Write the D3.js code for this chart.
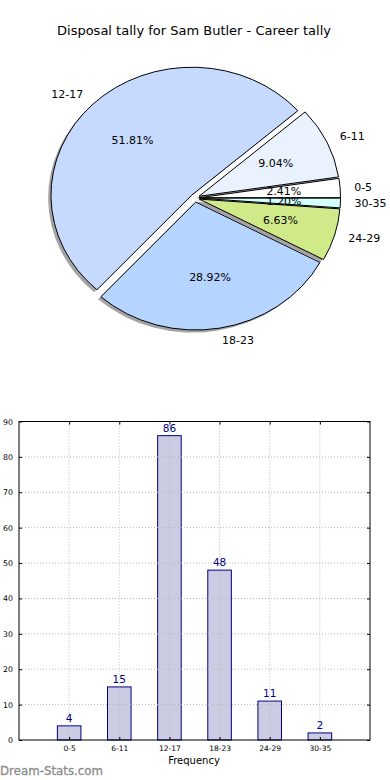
<!DOCTYPE html>
<html><head><meta charset="utf-8">
<script src="https://cdn.jsdelivr.net/npm/d3@7"></script>
<style>html,body{margin:0;padding:0;background:#fff;}svg{display:block;font-family:"DejaVu Sans",sans-serif;}</style>
</head><body>
<svg id="c" width="390" height="780"></svg>
<script>
const categories = ["0-5","6-11","12-17","18-23","24-29","30-35"];
const counts = [4,15,86,48,11,2];
const pieColors = ["#ffffff","#eaf1ff","#c6daff","#b5d4ff","#d0ea8a","#d5ffff"];
const yTicks = [0,10,20,30,40,50,60,70,80,90];
const title = "Disposal tally for Sam Butler - Career tally";

const svg = d3.select("#c");
svg.append("rect").attr("width",390).attr("height",780).attr("fill","#fff");

svg.append("text").attr("x",194).attr("y",30).attr("text-anchor","middle")
  .attr("dominant-baseline","central").attr("font-size",13).attr("fill","#000").text(title);

// ---- Pie ----
const cx = 195, cy = 198, rx = 141, ry = 128, explode = 0.032;
const total = d3.sum(counts);
const pie = d3.pie().sort(null).startAngle(Math.PI/2).endAngle(Math.PI/2 - 2*Math.PI);
const arcs = pie(counts);
const arcGen = d3.arc().innerRadius(0).outerRadius(1);
const pg = svg.append("g");
function off(d){ const a=(d.startAngle+d.endAngle)/2; return [Math.sin(a)*explode*rx, -Math.cos(a)*explode*ry]; }
// shadows
pg.selectAll("path.sh").data(arcs).join("path").attr("class","sh")
  .attr("d", arcGen)
  .attr("transform", d => { const o=off(d); return `translate(${cx+o[0]-0.02*rx},${cy+o[1]+0.02*ry}) scale(${rx},${ry})`; })
  .attr("fill", "#4a4a4a").attr("fill-opacity",0.5);
pg.selectAll("path.w").data(arcs).join("path").attr("class","w")
  .attr("d", arcGen)
  .attr("transform", d => { const o=off(d); return `translate(${cx+o[0]},${cy+o[1]}) scale(${rx},${ry})`; })
  .attr("fill", (d,i)=>pieColors[i]).attr("stroke","#000").attr("stroke-width",1)
  .attr("vector-effect","non-scaling-stroke").attr("stroke-linejoin","round");
// labels
arcs.forEach((d,i)=>{
  const a=(d.startAngle+d.endAngle)/2, o=off(d);
  const sx=Math.sin(a), sy=-Math.cos(a);
  pg.append("text").attr("x",cx+o[0]+1.1*rx*sx).attr("y",cy+o[1]+1.1*ry*sy)
    .attr("text-anchor", sx>0?"start":"end").attr("dominant-baseline","central")
    .attr("font-size",11).attr("fill","#000").text(categories[i]);
  pg.append("text").attr("x",cx+o[0]+0.6*rx*sx).attr("y",cy+o[1]+0.6*ry*sy)
    .attr("text-anchor","middle").attr("dominant-baseline","central")
    .attr("font-size",11).attr("fill","#000").text((counts[i]/total*100).toFixed(2)+"%");
});

// ---- Bar chart ----
const L=19, R=370, T=421.5, B=740;
const x = d3.scaleLinear().domain([-1,6]).range([L,R]);
const y = d3.scaleLinear().domain([0,90]).range([B,T]);
const bw = (x(1)-x(0))*0.47;
const bg = svg.append("g");
bg.selectAll("rect.bar").data(counts).join("rect").attr("class","bar")
  .attr("x",(d,i)=>x(i)-bw/2).attr("y",d=>y(d)).attr("width",bw).attr("height",d=>B-y(d))
  .attr("fill","#cbcbe2").attr("stroke","#000080").attr("stroke-width",1);
// grid
bg.selectAll("line.gy").data(yTicks.slice(1,-1)).join("line").attr("class","gy")
  .attr("x1",L).attr("x2",R).attr("y1",d=>y(d)).attr("y2",d=>y(d))
  .attr("stroke","#b8b8b8").attr("stroke-width",1).attr("stroke-dasharray","1,2");
bg.selectAll("line.gx").data(categories).join("line").attr("class","gx")
  .attr("x1",(d,i)=>x(i)).attr("x2",(d,i)=>x(i)).attr("y1",T).attr("y2",B)
  .attr("stroke","#b8b8b8").attr("stroke-width",1).attr("stroke-dasharray","1,2");
// frame
bg.append("rect").attr("x",L).attr("y",T).attr("width",R-L).attr("height",B-T)
  .attr("fill","none").attr("stroke","#000").attr("stroke-width",1);
// ticks (inward)
const yAxisL = d3.axisLeft(y).tickValues(yTicks).tickSizeInner(-3).tickSizeOuter(0).tickPadding(6);
const gyA = bg.append("g").attr("transform",`translate(${L},0)`).call(yAxisL);
gyA.select(".domain").remove();
gyA.selectAll("text").attr("font-size",7.8).attr("fill","#000").attr("font-family","DejaVu Sans");
const yAxisR = d3.axisRight(y).tickValues(yTicks).tickSizeInner(-3).tickSizeOuter(0).tickFormat("");
const gyR = bg.append("g").attr("transform",`translate(${R},0)`).call(yAxisR);
gyR.select(".domain").remove();
const xAxisB = d3.axisBottom(x).tickValues(d3.range(categories.length)).tickFormat(i=>categories[i])
  .tickSizeInner(-3).tickSizeOuter(0).tickPadding(6);
const gxA = bg.append("g").attr("transform",`translate(0,${B})`).call(xAxisB);
gxA.select(".domain").remove();
gxA.selectAll("text").attr("font-size",7.5).attr("fill","#000").attr("font-family","DejaVu Sans");
const xAxisT = d3.axisTop(x).tickValues(d3.range(categories.length)).tickFormat("").tickSizeInner(-3).tickSizeOuter(0);
const gxT = bg.append("g").attr("transform",`translate(0,${T})`).call(xAxisT);
gxT.select(".domain").remove();
// value labels
bg.selectAll("text.val").data(counts).join("text").attr("class","val")
  .attr("x",(d,i)=>x(i)).attr("y",d=>y(d)-4).attr("text-anchor","middle")
  .attr("font-size",10.5).attr("fill","#000080").text(d=>d);
bg.append("text").attr("x",194).attr("y",760).attr("text-anchor","middle").attr("dominant-baseline","central")
  .attr("font-size",10).attr("fill","#000").text("Frequency");
svg.append("text").attr("x",0).attr("y",771).attr("dominant-baseline","central")
  .attr("font-size",11.8).attr("font-weight","normal").attr("fill","#8c8c8c").attr("stroke","#8c8c8c").attr("stroke-width",0.3).text("Dream-Stats.com");
</script>
</body></html>
